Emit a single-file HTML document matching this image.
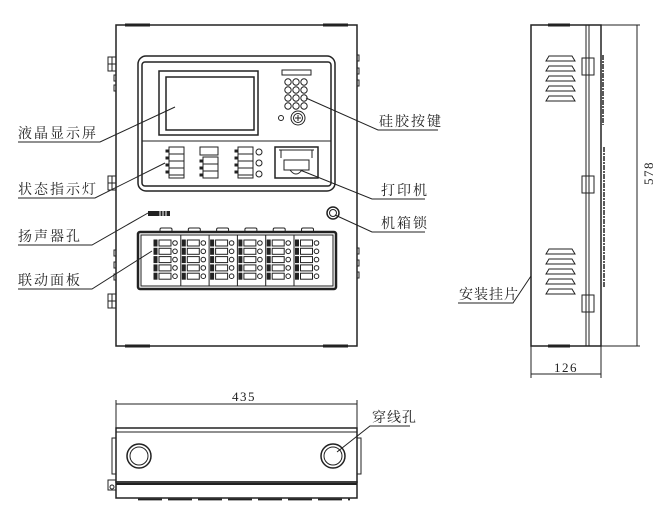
<!DOCTYPE html>
<html><head><meta charset="utf-8"><style>
html,body{margin:0;padding:0;background:#fff;}
svg{display:block;}
text{font-family:"Liberation Serif","Noto Serif CJK SC","Noto Sans CJK SC",serif;fill:#222;}
</style></head><body>
<svg id="s" width="670" height="516" viewBox="0 0 670 516" xmlns="http://www.w3.org/2000/svg" fill="none" stroke="#222" stroke-width="1">
<!-- FRONT VIEW -->
<rect x="116" y="25" width="241" height="321" stroke-width="1.5"/>
<line x1="125" y1="25" x2="150" y2="25" stroke-width="3"/>
<line x1="323" y1="25" x2="348" y2="25" stroke-width="3"/>
<line x1="125" y1="346" x2="150" y2="346" stroke-width="3"/>
<line x1="323" y1="346" x2="348" y2="346" stroke-width="3"/>
<rect x="108" y="57" width="8" height="14"/><line x1="108" y1="64" x2="116" y2="64"/><line x1="112" y1="57" x2="112" y2="71"/>
<rect x="108" y="176" width="8" height="14"/><line x1="108" y1="183" x2="116" y2="183"/><line x1="112" y1="176" x2="112" y2="190"/>
<rect x="108" y="294" width="8" height="14"/><line x1="108" y1="301" x2="116" y2="301"/><line x1="112" y1="294" x2="112" y2="308"/>
<path d="M116 75 h-2 v6 h2 M116 85 h-2 v6 h2 M116 250 h-2 v6 h2 M116 262 h-2 v6 h2 M116 274 h-2 v6 h2 M357 55 h2 v6 h-2 M357 68 h2 v6 h-2 M357 80 h2 v6 h-2 M357 248 h2 v6 h-2 M357 260 h2 v6 h-2 M357 272 h2 v6 h-2"/>
<rect x="138" y="56" width="197" height="135" rx="8" stroke-width="1.5"/>
<rect x="142" y="62" width="189" height="124" rx="3" stroke-width="1.5"/>
<line x1="142" y1="141" x2="331" y2="141"/>
<rect x="159" y="71" width="99" height="64" stroke-width="1.5"/>
<rect x="166" y="77" width="88" height="53" stroke-width="1.5"/>
<rect x="282" y="70" width="29" height="5"/>
<g id="keys"></g>
<circle cx="281" cy="118" r="2.5"/>
<circle cx="298" cy="118" r="7"/><circle cx="298" cy="118" r="4.5"/><path d="M295 118h6M298 115v6"/>
<g id="ind"></g>
<rect x="200" y="147" width="18" height="8"/>
<circle cx="259" cy="152" r="3"/><circle cx="259" cy="163" r="3"/><circle cx="259" cy="174" r="3"/>
<rect x="275" y="147" width="43" height="31" stroke-width="1.5"/>
<path d="M279 150 h35 M281 150 v8 M312 150 v8"/>
<rect x="284" y="160" width="25" height="10"/>
<path d="M290 170 q6 8 12 0"/>
<rect x="148" y="211" width="22" height="5" fill="#222" stroke="none"/>
<path d="M160 211v5M163 211v5M166 211v5" stroke="#fff"/>
<circle cx="333" cy="213" r="6" stroke-width="1.5"/><circle cx="333" cy="213" r="3.5"/>
<g id="tabs"></g>
<rect x="138" y="232" width="198" height="57" rx="2" stroke-width="2.5"/>
<rect x="141" y="235" width="192" height="51"/>
<g id="mods"></g>
<g font-size="14" stroke="none">
<text x="18" y="138" letter-spacing="2">液晶显示屏</text>
<text x="18" y="194" letter-spacing="2">状态指示灯</text>
<text x="18" y="241" letter-spacing="2">扬声器孔</text>
<text x="18" y="285" letter-spacing="2">联动面板</text>
<text x="379" y="126" letter-spacing="2">硅胶按键</text>
<text x="381" y="195" letter-spacing="2">打印机</text>
<text x="381" y="228" letter-spacing="2">机箱锁</text>
<text x="459" y="299" letter-spacing="1">安装挂片</text>
<text x="372" y="422" letter-spacing="1">穿线孔</text>
<text x="232" y="401" font-size="13" letter-spacing="1.5">435</text>
<text x="554" y="372" font-size="13" letter-spacing="1.5">126</text>
<text x="0" y="0" font-size="13" letter-spacing="1.5" transform="translate(653,185) rotate(-90)">578</text>
</g>
<path d="M18 142H100L175 107 M18 198H95L165 163 M18 245H92L148 213 M18 289H92L152 251 M438 130H378L306 98 M425 199H372L300 170 M425 232H372L335 215 M458 303H513L531 276 M410 426H370L337 452"/>
<!-- SIDE VIEW -->
<rect x="531" y="25" width="70" height="321" stroke-width="1.5"/>
<line x1="586" y1="25" x2="586" y2="346"/><line x1="589" y1="25" x2="589" y2="346"/>
<line x1="548" y1="25" x2="570" y2="25" stroke-width="3"/><line x1="548" y1="346" x2="570" y2="346" stroke-width="3"/>
<g id="vents"></g>
<rect x="582" y="58" width="12" height="17"/><rect x="582" y="176" width="12" height="17"/><rect x="582" y="295" width="12" height="17"/>
<path d="M603 55v70M604 147v140" stroke-width="1.5" stroke-dasharray="5 1 2 1"/>
<path d="M601 25H640M637 25V346M601 346H640M531 346V378M601 346V378M531 374H601"/>
<!-- BOTTOM VIEW -->
<path d="M116 404H357M116 400V428M357 400V428"/>
<rect x="116" y="428" width="241" height="54" stroke-width="1.5"/>
<line x1="116" y1="432" x2="357" y2="432"/>
<rect x="116" y="482" width="241" height="16" stroke-width="1.5"/>
<line x1="116" y1="484" x2="357" y2="484" stroke-width="2"/>
<rect x="112" y="438" width="4" height="36"/><rect x="357" y="438" width="4" height="36"/>
<rect x="108" y="480" width="8" height="10"/><circle cx="112" cy="487" r="2"/>
<path d="M138 499.5H350" stroke-width="1.8" stroke-dasharray="24 6"/>
<circle cx="139" cy="456" r="12" stroke-width="1.5"/><circle cx="139" cy="456" r="9"/>
<circle cx="333" cy="456" r="12" stroke-width="1.5"/><circle cx="333" cy="456" r="9"/>
</svg>
<script>
var NS="http://www.w3.org/2000/svg";
function add(g,tag,a){var e=document.createElementNS(NS,tag);for(var k in a)e.setAttribute(k,a[k]);document.getElementById(g).appendChild(e);}
for(var r=0;r<4;r++)for(var c=0;c<3;c++)add("keys","circle",{cx:288+c*8,cy:82+r*8,r:3.2});
[166,200,235].forEach(function(x,i){
  var y0=i==1?157:147;
  add("ind","rect",{x:x+3,y:y0,width:15,height:178-y0});
  for(var y=y0+7;y<178;y+=7)add("ind","line",{x1:x+3,y1:y,x2:x+18,y2:y});
  for(var y=y0+4;y<178;y+=7)add("ind","rect",{x:x,y:y-1,width:3,height:2,fill:"#222"});
});
for(var m=0;m<6;m++){
  var x=154+m*28.3;
  add("tabs","rect",{x:x+6,y:228,width:12,height:4,rx:1.5});
  if(m>0)add("mods","line",{x1:x-1.5,y1:235,x2:x-1.5,y2:286});
  for(var r=0;r<5;r++){var y=243+r*8.3;
    add("mods","rect",{x:x,y:y-3,width:3,height:6,fill:"#222"});
    add("mods","rect",{x:x+5,y:y-3,width:12,height:6});
    add("mods","circle",{cx:x+21,cy:y,r:2.3});}
}
[55,248].forEach(function(y0){for(var i=0;i<5;i++){var y=y0+i*10;
  add("vents","path",{d:"M546 "+(y+6)+" l3 -5 h23 l3 5 z"});}});
</script>
</body></html>
